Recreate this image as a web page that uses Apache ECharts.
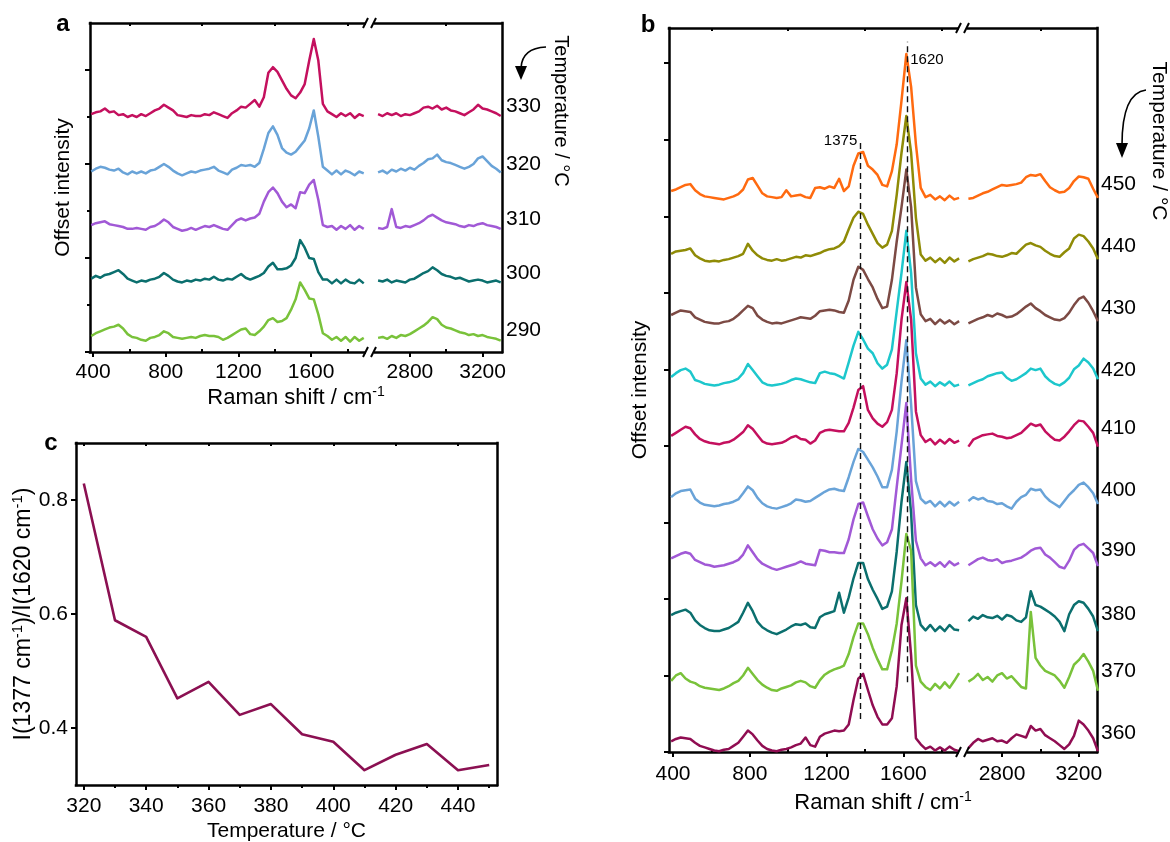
<!DOCTYPE html>
<html>
<head>
<meta charset="utf-8">
<script src="https://cdn.jsdelivr.net/npm/echarts@6/dist/echarts.min.js"></script>
<style>html,body{margin:0;padding:0;background:#fff}#chart{width:1170px;height:842px}</style>
</head>
<body>
<div id="chart"></div>
<script>
// ---------------- DATA ----------------
// Raman shift sampling (cm-1): low-wavenumber segment and high-wavenumber segment
const waveLow = [390,415,440,465,490,515,540,565,590,615,640,665,690,715,740,765,790,815,840,865,890,915,940,965,990,1015,1040,1065,1090,1115,1140,1165,1190,1215,1240,1265,1290,1315,1340,1365,1390,1415,1440,1465,1490,1515,1540,1565,1590,1615,1640,1665,1690,1715,1740,1765,1790,1815,1840,1865,1890];
const waveHigh = [2625,2650,2675,2700,2725,2750,2775,2800,2825,2850,2875,2900,2925,2950,2975,3000,3025,3050,3075,3100,3125,3150,3175,3200,3225,3250,3275,3300];

// Panel a: temperatures, vertical offsets (a.u.), spectra (a.u. above baseline)
const tempsA = [290, 300, 310, 320, 330];
const offsetsA = [14, 75, 132, 191, 252];
const a290Low = [3,6,8,10,12,13,15,11,5,2, 1,-1,-2,1,2,4,8,6,2,1, 0,1,2,1,3,4,3,3,2,-1, 1,4,7,10,11,5,4,8,13,20, 22,18,19,22,31,42,60,52,43,42, 26,6,3,-1,2,-2,2,-3,2,-2, 1];
const a290High = [1,2,0,3,1,4,3,5,8,11, 14,18,23,21,15,12,11,9,7,6, 4,5,3,4,2,1,0,-2];
const a300Low = [3,6,4,7,8,10,12,8,3,1, -1,1,0,2,3,5,9,6,2,0, -1,1,0,2,1,3,2,5,2,1, 3,2,5,8,4,2,4,6,9,16, 20,13,13,14,17,25,44,36,25,24, 10,2,2,-2,2,-2,2,-1,-2,2, -2];
const a300High = [1,0,2,-1,1,0,-1,2,3,6, 9,11,15,12,8,6,5,3,4,2, 0,1,2,1,-1,0,1,-1];
const a310Low = [3,5,6,7,4,3,2,1,-1,-1, 0,-1,-2,1,2,5,9,6,1,-1, -3,-2,0,-2,0,2,1,3,1,-1, -2,3,8,10,8,10,11,15,28,38, 43,37,28,22,25,21,38,37,46,51, 30,3,1,2,-2,2,-1,3,-2,2, -1];
const a310High = [0,-1,1,20,1,0,2,1,3,5, 8,12,14,11,8,6,5,4,2,1, 3,2,4,5,3,2,1,-1];
const a320Low = [1,4,6,5,3,2,4,0,-2,1, -1,1,-1,2,3,6,9,6,2,-1, -3,-1,1,0,2,3,4,6,2,0, -2,3,5,8,7,8,6,10,25,42, 49,40,26,21,19,22,28,34,47,66, 38,6,2,-2,2,-2,2,0,-3,1, -1];
const a320High = [0,2,-1,3,1,4,2,5,3,7, 10,14,15,19,13,11,10,8,6,4, 6,9,15,17,12,7,4,0];
const a330Low = [1,3,4,7,3,4,0,1,-2,0, -2,1,-1,2,5,7,11,8,5,0, -1,-2,0,-1,-1,1,0,3,1,-1, -3,2,5,9,8,12,16,9,19,45, 51,46,37,28,21,18,24,33,58,81, 58,12,4,1,-2,2,-1,2,-3,1, -1];
const a330High = [1,-1,2,0,2,-1,1,0,2,4, 8,9,7,10,6,8,5,4,2,0, 3,6,11,7,6,4,2,-1];

// Panel b
const tempsB = [360, 370, 380, 390, 400, 410, 420, 430, 440, 450];
const offsetsB = [6, 88, 162, 246, 324, 405, 481, 562, 643, 724];
const b360Low = [8,11,13,12,11,6,2,0,-2,-4, -5,-3,-2,2,6,14,22,17,9,2, -2,-4,-5,-3,-2,0,3,5,13,3, 1,14,18,20,22,21,22,30,62,90, 96,75,55,40,30,30,38,80,160,195, 120,12,4,-2,1,-4,0,-4,1,-3, -5];
const b360High = [-1,6,11,8,10,12,8,9,6,12, 17,15,13,28,22,24,16,12,8,3, -2,4,15,35,30,22,12,-5];
const b370Low = [5,12,15,8,4,2,-2,-4,-5,-6, -7,-5,-2,2,5,12,22,14,6,0, -4,-7,-8,-5,-3,-1,3,5,3,-2, -4,6,13,17,20,22,25,40,62,80, 80,66,48,33,20,20,45,80,135,197, 175,25,4,-3,-7,1,-5,3,-4,5, 15];
const b370High = [4,8,14,6,10,4,12,15,8,11, 4,-3,-5,95,35,25,18,15,12,5, -4,10,26,32,40,30,18,-8];
const b380Low = [17,20,22,24,20,10,4,0,-3,-4, -4,-2,0,4,8,20,33,22,8,1, -3,-6,-8,-5,-2,2,5,4,6,1, 0,14,18,20,22,46,20,40,65,85, 85,64,50,38,25,28,48,100,165,217, 150,30,4,-3,4,-4,2,-4,4,-2, -3];
const b380High = [9,15,12,17,14,13,16,11,17,15, 10,8,14,48,30,28,24,20,15,8, -4,18,30,35,33,25,15,-4];
const b390Low = [7,10,13,15,13,5,2,-1,-2,-4, -3,-2,0,2,5,12,24,15,6,0, -3,-6,-8,-6,-4,-2,0,3,0,-1, -2,18,17,15,15,14,14,32,58,78, 80,62,45,33,24,28,45,100,155,210, 110,30,7,-2,2,-3,2,-4,3,-2, 1];
const b390High = [-2,2,6,8,5,4,6,1,3,4, 6,8,12,17,20,21,12,8,2,-4, -6,4,18,24,26,20,14,-3];
const b400Low = [9,14,17,18,19,7,2,-1,-2,-3, -2,0,1,3,6,14,23,18,8,1, -3,-5,-6,-4,-2,1,6,5,3,4, 8,12,16,19,20,18,17,35,55,72, 68,58,48,36,22,22,45,95,160,214, 130,30,7,1,4,-3,3,-3,3,-2, 3];
const b400High = [4,9,6,8,4,3,0,1,-3,-6, 3,9,12,20,18,19,10,4,0,-4, 4,12,18,25,28,22,14,0];
const b410Low = [8,12,16,20,18,10,4,1,-1,-2, -3,-1,0,3,8,13,22,17,9,1, -2,-3,-2,-1,2,6,8,4,3,-2, 2,12,15,16,15,14,14,25,45,68, 73,42,31,24,20,26,42,90,160,209, 160,40,9,0,4,-3,3,-2,4,-1, 2];
const b410High = [-6,3,6,9,10,11,8,7,5,6, 9,12,18,24,21,23,14,8,3,2, 7,14,22,28,27,20,12,-6];
const b420Low = [9,14,18,20,16,5,3,0,-1,-2, -1,1,2,4,7,14,26,18,10,2, -1,-2,-1,0,2,5,7,6,4,2, 1,14,16,14,13,10,7,28,50,68, 58,46,40,27,20,25,45,95,145,200, 145,40,7,-1,3,-3,2,-2,3,-3, -1];
const b420High = [-2,1,4,6,10,12,14,15,8,4, 6,10,14,20,18,20,10,4,0,-2, 2,8,19,24,33,28,20,6];
const b430Low = [9,12,15,14,13,6,3,0,-1,-2, -2,0,1,4,9,15,21,18,8,3, 0,-2,-1,-2,0,2,4,6,5,4, 8,14,15,16,15,13,12,28,55,72, 68,56,45,30,18,20,55,105,150,199, 150,45,10,1,4,-3,3,-2,2,-3, 1];
const b430High = [-2,1,4,6,9,7,11,9,6,7, 10,15,20,24,18,14,9,6,3,2, 5,12,22,30,33,25,14,1];
const b440Low = [8,11,12,13,15,6,2,-1,-2,-1, -2,0,1,3,5,8,21,12,6,2, 0,-1,1,-1,0,2,4,3,6,5, 7,9,12,14,15,18,24,40,55,63, 60,46,34,22,16,20,38,85,140,188, 140,55,7,-1,3,-3,2,-4,3,-2, 2];
const b440High = [-2,1,3,5,8,7,5,4,6,9, 8,14,20,22,19,17,12,8,5,4, 10,15,28,33,31,24,15,1];
const b450Low = [9,11,14,17,18,10,5,2,1,0, -1,-2,0,2,5,11,24,26,16,6, 2,1,0,1,10,2,3,4,1,0, 13,14,12,15,13,25,9,15,42,58, 60,42,37,30,17,15,35,70,127,188, 145,70,13,1,4,-2,2,-3,3,-2, 0];
const b450High = [-1,0,3,6,8,11,14,17,16,17, 18,20,27,30,29,31,22,14,10,7, 8,13,22,28,27,25,12,0];

// Peak markers in panel b (cm-1) and their vertical extent (a.u.)
const peakPositions = [1375, 1620];
const peakLineFrom = [43, 91];
const peakLineTo = [796, 928];
const peakLabelAt = [799, 905];

// Panel c
const tempsC = [320, 330, 340, 350, 360, 370, 380, 390, 400, 410, 420, 430, 440, 450];
const ratioC = [0.829, 0.589, 0.560, 0.452, 0.481, 0.423, 0.442, 0.389, 0.376, 0.326, 0.353, 0.372, 0.326, 0.335];

// Tick labels
const ticksLow = [400, 800, 1200, 1600];
const minorLow = [600, 1000, 1400, 1800];
const ticksHigh = [2800, 3200];
const minorHigh = [3000];
const ticksC = [320, 340, 360, 380, 400, 420, 440];
const minorC = [330, 350, 370, 390, 410, 430, 450];
const ticksCY = [0.4, 0.6, 0.8];

// ---------------- STYLE ----------------
const FONT = '"Liberation Sans", Arial, Helvetica, sans-serif';
const K = '#000';
const colorsA = ['#79C23A', '#0B6F6E', '#A159D6', '#69A3D8', '#C4105E'];
const colorsB = ['#900D52', '#79C23A', '#0B6F6E', '#A159D6', '#69A3D8', '#C4105E', '#1DC7CC', '#7C4A44', '#8F8B06', '#FF6A10'];
const lowA = [a290Low, a300Low, a310Low, a320Low, a330Low];
const highA = [a290High, a300High, a310High, a320High, a330High];
const lowB = [b360Low, b370Low, b380Low, b390Low, b400Low, b410Low, b420Low, b430Low, b440Low, b450Low];
const highB = [b360High, b370High, b380High, b390High, b400High, b410High, b420High, b430High, b440High, b450High];

const AXL = {show: true, onZero: false, lineStyle: {color: K, width: 2.5, cap: 'square'}};
const NOL = {show: false, onZero: false};
const TICKLS = {color: K, width: 2};
const plain = v => String(Math.round(v));

function xMain(grid, mn, mx, labels, margin) {
  return {type: 'value', gridIndex: grid, min: mn, max: mx, position: 'bottom',
    axisLine: AXL, splitLine: {show: false},
    axisTick: {show: true, customValues: labels, length: 5, lineStyle: TICKLS},
    axisLabel: {show: true, customValues: labels, fontSize: 21, color: K, fontFamily: FONT, margin: margin, formatter: plain}};
}
function xTicks(grid, mn, mx, vals, pos, inside, len) {
  return {type: 'value', gridIndex: grid, min: mn, max: mx, position: pos,
    axisLine: NOL, splitLine: {show: false}, axisLabel: {show: false},
    axisTick: {show: true, customValues: vals, inside: inside, length: len, lineStyle: TICKLS}};
}
function xTop(grid, mn, mx, vals) {
  return {type: 'value', gridIndex: grid, min: mn, max: mx, position: 'top',
    axisLine: AXL, splitLine: {show: false}, axisLabel: {show: false},
    axisTick: {show: true, customValues: vals, inside: true, length: 3, lineStyle: TICKLS}};
}
function yLeft(grid, mn, mx, ticks, name, gap) {
  return {type: 'value', gridIndex: grid, min: mn, max: mx, position: 'left',
    axisLine: AXL, splitLine: {show: false}, axisLabel: {show: false},
    axisTick: {show: true, customValues: ticks, length: 5, lineStyle: TICKLS},
    name: name, nameLocation: 'middle', nameRotate: 90, nameGap: gap,
    nameTextStyle: {fontSize: 21, color: K, fontFamily: FONT}};
}
function yRightTemps(grid, mn, mx, temps, offsets, shift) {
  const vals = offsets.map(o => o + shift);
  return {type: 'value', gridIndex: grid, min: mn, max: mx, position: 'right',
    axisLine: AXL, splitLine: {show: false}, axisTick: {show: false},
    axisLabel: {show: true, customValues: vals, margin: 4, fontSize: 21, color: K, fontFamily: FONT,
      formatter: function (v) {
        const i = vals.findIndex(l => Math.abs(l - v) < 0.5);
        return i < 0 ? '' : String(temps[i]);
      }}};
}
function spectrum(xs, ys, off, xi, yi, color) {
  return {type: 'line', xAxisIndex: xi, yAxisIndex: yi,
    data: xs.map((x, i) => [x, ys[i] + off]),
    symbol: 'none', showSymbol: false, silent: true, clip: true,
    lineStyle: {color: color, width: 2.5, join: 'round'}, itemStyle: {color: color}};
}

// Axis ranges
const xA1 = [383, 1919], xA2 = [2586, 3307];
const xB1 = [379, 1905], xB2 = [2602, 3295];
const yA = [0, 350], yB = [0, 946];
const xC = [317.5, 452.5], yC = [0.3, 0.9];

const xAxis = [
  xMain(0, xA1[0], xA1[1], ticksLow, 10),          // 0
  xTicks(0, xA1[0], xA1[1], minorLow, 'bottom', true, 3),
  xTop(0, xA1[0], xA1[1], minorLow),
  xMain(1, xA2[0], xA2[1], ticksHigh, 10),         // 3
  xTicks(1, xA2[0], xA2[1], minorHigh, 'bottom', true, 3),
  xTop(1, xA2[0], xA2[1], minorHigh),
  xMain(2, xB1[0], xB1[1], ticksLow, 12),          // 6
  xTicks(2, xB1[0], xB1[1], minorLow, 'bottom', true, 3),
  xTop(2, xB1[0], xB1[1], minorLow),
  xMain(3, xB2[0], xB2[1], ticksHigh, 12),         // 9
  xTicks(3, xB2[0], xB2[1], minorHigh, 'bottom', true, 3),
  xTop(3, xB2[0], xB2[1], minorHigh),
  Object.assign(xMain(4, xC[0], xC[1], ticksC, 11), {   // 12
    name: 'Temperature / °C', nameLocation: 'middle', nameGap: 36,
    nameTextStyle: {fontSize: 21, color: K, fontFamily: FONT}}),
  xTicks(4, xC[0], xC[1], minorC, 'bottom', false, 3),
  xTop(4, xC[0], xC[1], ticksC)
];

const yAxis = [
  yLeft(0, yA[0], yA[1], [0, 100, 200, 300], 'Offset intensity', 16),  // 0
  {type: 'value', gridIndex: 0, min: yA[0], max: yA[1], position: 'left', axisLine: NOL,
    splitLine: {show: false}, axisLabel: {show: false},
    axisTick: {show: true, customValues: [50, 150, 250], length: 3, lineStyle: TICKLS}}, // 1
  yRightTemps(1, yA[0], yA[1], tempsA, offsetsA, 9),                   // 2
  yLeft(2, yB[0], yB[1], [0, 100, 200, 300, 400, 500, 600, 700, 800, 900], 'Offset intensity', 18), // 3
  yRightTemps(3, yB[0], yB[1], tempsB, offsetsB, 18),                  // 4
  {type: 'value', gridIndex: 4, min: yC[0], max: yC[1], position: 'left',   // 5
    axisLine: AXL, splitLine: {show: false},
    axisTick: {show: true, customValues: ticksCY, length: 5, lineStyle: TICKLS},
    axisLabel: {show: true, customValues: ticksCY, fontSize: 21, color: K, fontFamily: FONT, margin: 8,
      formatter: v => v.toFixed(1)},
    name: '{m|I(1377 cm}{s|-1}{m|)/I(1620 cm}{s|-1}{m|)}', nameLocation: 'middle', nameRotate: 90, nameGap: 33,
    nameTextStyle: {color: K, fontFamily: FONT, fontSize: 23,
      rich: {m: {fontSize: 23, lineHeight: 27, color: K, fontFamily: FONT},
             s: {fontSize: 15, lineHeight: 15, verticalAlign: 'top', color: K, fontFamily: FONT}}}},
  {type: 'value', gridIndex: 4, min: yC[0], max: yC[1], position: 'right',  // 6
    axisLine: AXL, splitLine: {show: false}, axisTick: {show: false}, axisLabel: {show: false}}
];

const series = [];
tempsA.forEach((t, i) => {
  series.push(spectrum(waveLow, lowA[i], offsetsA[i], 0, 0, colorsA[i]));
  series.push(spectrum(waveHigh, highA[i], offsetsA[i], 3, 2, colorsA[i]));
});
for (let i = tempsB.length - 1; i >= 0; i--) {
  series.push(spectrum(waveLow, lowB[i], offsetsB[i], 6, 3, colorsB[i]));
  series.push(spectrum(waveHigh, highB[i], offsetsB[i], 9, 4, colorsB[i]));
}
series.push({
  type: 'line', xAxisIndex: 6, yAxisIndex: 3, data: [], silent: true,
  markLine: {
    silent: true, symbol: ['none', 'none'], label: {show: false}, animation: false,
    lineStyle: {color: '#111', type: [6, 4], width: 1.4},
    data: peakPositions.map((p, i) => [{coord: [p, peakLineFrom[i]]}, {coord: [p, peakLineTo[i]]}])
  },
  markPoint: {
    silent: true, symbol: 'circle', symbolSize: 0, animation: false,
    data: peakPositions.map((p, i) => ({
      coord: [p, peakLabelAt[i]],
      label: {show: true, position: i === 0 ? 'left' : 'right', distance: 3, formatter: String(p),
        fontSize: 15, color: K, fontFamily: FONT}
    }))
  }
});
series.push({
  type: 'line', xAxisIndex: 12, yAxisIndex: 5,
  data: tempsC.map((t, i) => [t, ratioC[i]]),
  symbol: 'none', showSymbol: false, silent: true,
  lineStyle: {color: '#8B1052', width: 2.6, join: 'round'}
});

// ---------------- DECORATIONS ----------------
function breakMark(x, y) {
  return {type: 'group', z: 100, children: [
    {type: 'rect', shape: {x: x - 4, y: y - 4, width: 8, height: 8}, style: {fill: '#fff'}, z: 100},
    {type: 'line', shape: {x1: x - 7, y1: y + 5, x2: x - 2, y2: y - 5}, style: {stroke: K, lineWidth: 2}, z: 101},
    {type: 'line', shape: {x1: x + 1, y1: y + 5, x2: x + 6, y2: y - 5}, style: {stroke: K, lineWidth: 2}, z: 101}
  ]};
}
function txt(x, y, text, size, opts) {
  return Object.assign({type: 'text', x: x, y: y, z: 100, style: Object.assign({
    text: text, fill: K, font: size + 'px ' + FONT,
    textAlign: 'center', textVerticalAlign: 'middle', align: 'center', verticalAlign: 'middle'}, (opts && opts.style) || {})},
    (opts && opts.el) || {});
}
function ramanTitle(x, y) {
  return {type: 'text', x: x, y: y, z: 100, style: {
    text: '{m|Raman shift / cm}{s|-1}', fill: K, font: '22px ' + FONT,
    textAlign: 'center', textVerticalAlign: 'middle', align: 'center', verticalAlign: 'middle',
    rich: {m: {fontSize: 22, lineHeight: 26, fill: K, fontFamily: FONT},
           s: {fontSize: 14, lineHeight: 14, verticalAlign: 'top', fill: K, fontFamily: FONT}}}};
}
function curvedArrow(x0, y0, cx, cy, x1, y1, tipY) {
  return {type: 'group', z: 100, children: [
    {type: 'bezierCurve', shape: {x1: x0, y1: y0, cpx1: cx, cpy1: cy, x2: x1, y2: y1},
      style: {stroke: K, lineWidth: 1.6, fill: null}, z: 100},
    {type: 'polygon', shape: {points: [[x1, tipY], [x1 - 6, y1 - 2], [x1 + 6, y1 - 2]]},
      style: {fill: K}, z: 100}
  ]};
}

const graphic = [
  breakMark(370, 23), breakMark(370, 352),
  breakMark(963, 28), breakMark(963, 752),
  ramanTitle(296, 398), ramanTitle(883, 803),
  txt(63, 24, 'a', 24, {style: {font: 'bold 24px ' + FONT}}),
  txt(648, 25, 'b', 24, {style: {font: 'bold 24px ' + FONT}}),
  txt(51, 443, 'c', 24, {style: {font: 'bold 24px ' + FONT}}),
  txt(561, 111, 'Temperature / °C', 20, {el: {rotation: -Math.PI / 2}}),
  txt(1159, 141, 'Temperature / °C', 21, {el: {rotation: -Math.PI / 2}}),
  curvedArrow(546, 47, 522, 48, 521, 68, 80),
  curvedArrow(1146, 90, 1122, 93, 1122, 145, 158)
];

const chart = echarts.init(document.getElementById('chart'), null, {renderer: 'canvas'});
chart.setOption({
  animation: false,
  backgroundColor: '#fff',
  textStyle: {fontFamily: FONT},
  grid: [
    {left: 90, top: 23, width: 279, height: 329, outerBoundsMode: 'none', containLabel: false},
    {left: 371, top: 23, width: 131, height: 329, outerBoundsMode: 'none', containLabel: false},
    {left: 669, top: 28, width: 293, height: 724, outerBoundsMode: 'none', containLabel: false},
    {left: 964, top: 28, width: 133, height: 724, outerBoundsMode: 'none', containLabel: false},
    {left: 76, top: 443, width: 421, height: 342, outerBoundsMode: 'none', containLabel: false}
  ],
  xAxis: xAxis,
  yAxis: yAxis,
  series: series,
  graphic: graphic
});
</script>
</body>
</html>
